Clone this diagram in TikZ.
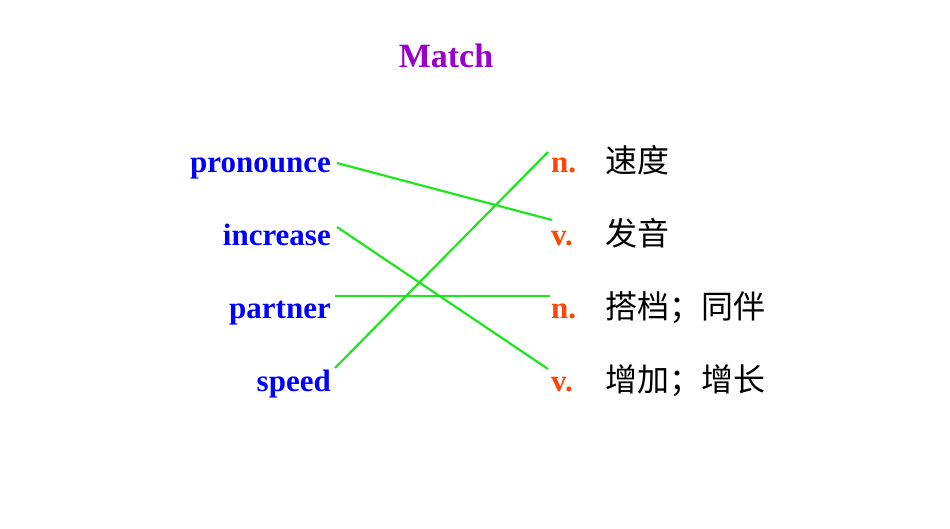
\documentclass[tikz,border=0pt]{standalone}
\usepackage{fontspec}
\setmainfont{Liberation Serif}
\newfontfamily\cjk{Noto Sans CJK SC}
\begin{document}
\begin{tikzpicture}[x=1pt,y=-1pt,
  en/.style={anchor=base east,inner sep=0pt,text=blue,font=\fontsize{31}{31}\selectfont\bfseries},
  ps/.style={anchor=base west,inner sep=0pt,text={rgb,255:red,255;green,69;blue,0},font=\fontsize{31}{31}\selectfont\bfseries},
  zh/.style={anchor=base west,inner sep=0pt,font=\fontsize{32}{32}\selectfont\cjk},
  ln/.style={draw={rgb,255:red,30;green,230;blue,30},line width=2.2pt}]
\useasboundingbox (0,0) rectangle (950,528);
\node[anchor=base,inner sep=0pt,text={rgb,255:red,153;green,0;blue,204},font=\fontsize{34}{34}\selectfont\bfseries] (t) at (446,67) {Match};
\node[en] (w1) at (331,172) {pronounce};
\node[en] (w2) at (331,245) {increase};
\node[en] (w3) at (331,318) {partner};
\node[en] (w4) at (331,391) {speed};
\node[ps] (p1) at (551,172) {n.};
\node[ps] (p2) at (551,245) {v.};
\node[ps] (p3) at (551,318) {n.};
\node[ps] (p4) at (551,391) {v.};
\node[zh] (z1) at (605,172) {速度};
\node[zh] (z2) at (605,245) {发音};
\node[zh] (z3) at (605,318) {搭档；同伴};
\node[zh] (z4) at (605,391) {增加；增长};
\coordinate (a1) at (337,163); \coordinate (b1) at (552,220);
\coordinate (a2) at (337,227); \coordinate (b2) at (548,369);
\coordinate (a3) at (335,296); \coordinate (b3) at (550,296);
\coordinate (a4) at (335,368); \coordinate (b4) at (548,152);
\draw[ln] (a1) -- (b1);
\draw[ln] (a2) -- (b2);
\draw[ln] (a3) -- (b3);
\draw[ln] (a4) -- (b4);
\end{tikzpicture}
\end{document}
